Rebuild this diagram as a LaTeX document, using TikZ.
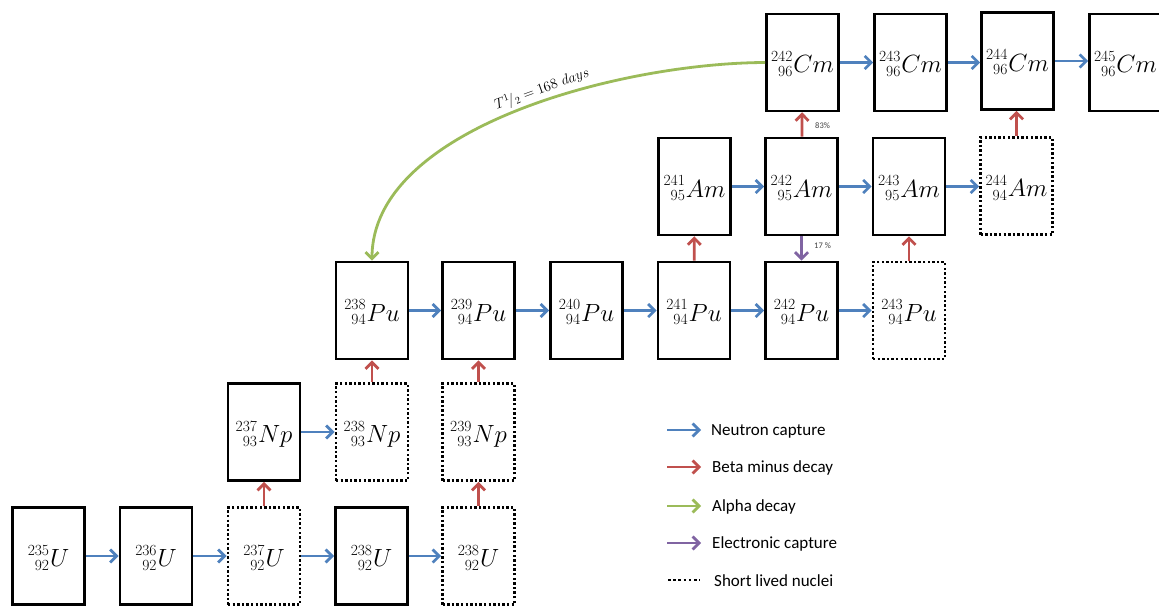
\documentclass[tikz,border=0pt]{standalone}
\usepackage{fontspec}
\newfontfamily\carl{Carlito}
\usetikzlibrary{arrows.meta}
\definecolor{nblue}{HTML}{4F81BD}
\definecolor{nred}{HTML}{C0504D}
\definecolor{ngreen}{HTML}{9BBB59}
\definecolor{npurple}{HTML}{8064A2}
\newcommand\nucl[3]{{\fontsize{15.5}{15}\selectfont\raisebox{11.5pt}{#1}\llap{\raisebox{-3.5pt}{#2}}}\kern1pt$#3$}
\begin{document}
\begin{tikzpicture}[x=1pt,y=-1pt,
  nuc/.style={draw=black, line width=2.6pt, minimum width=72pt, minimum height=97pt, inner sep=0pt, text height=21pt, text depth=0pt, font=\fontsize{24.5}{28}\selectfont},
  shortnuc/.style={nuc, dash pattern=on 2.4pt off 2.2pt},
  arr/.style={line width=2.8pt, -{Straight Barb[length=6.5pt,width=13pt]}},
  ncap/.style={arr, draw=nblue},
  bdec/.style={arr, draw=nred},
  adec/.style={arr, draw=ngreen},
  ecap/.style={arr, draw=npurple},
  legtext/.style={anchor=west, inner sep=0pt, font=\carl\fontsize{17}{20}\selectfont},
  pct/.style={anchor=west, inner sep=0pt, font=\carl\fontsize{8.5}{10}\selectfont, text=black!75}
]
\useasboundingbox (0,0) rectangle (1159,607);
\clip (0,0) rectangle (1159,607);
% row U
\node[nuc] (u235) at (48.5,556) {\nucl{235}{92}{U}};
\node[nuc] (u236) at (156,556) {\nucl{236}{92}{U}};
\node[shortnuc] (u237) at (264,556) {\nucl{237}{92}{U}};
\node[nuc] (u238) at (371.5,556) {\nucl{238}{92}{U}};
\node[shortnuc] (u238b) at (478.5,556) {\nucl{238}{92}{U}};
% row Np
\node[nuc] (np237) at (264,432) {\nucl{237}{93}{Np}};
\node[shortnuc] (np238) at (372,432) {\nucl{238}{93}{Np}};
\node[shortnuc] (np239) at (478.5,432) {\nucl{239}{93}{Np}};
% row Pu
\node[nuc] (pu238) at (372,310.5) {\nucl{238}{94}{Pu}};
\node[nuc] (pu239) at (478.5,310.5) {\nucl{239}{94}{Pu}};
\node[nuc] (pu240) at (586.5,310.5) {\nucl{240}{94}{Pu}};
\node[nuc] (pu241) at (694,310.5) {\nucl{241}{94}{Pu}};
\node[nuc] (pu242) at (801.5,310.5) {\nucl{242}{94}{Pu}};
\node[shortnuc] (pu243) at (909,310.5) {\nucl{243}{94}{Pu}};
% row Am
\node[nuc] (am241) at (694.5,186.5) {\nucl{241}{95}{Am}};
\node[nuc] (am242) at (801.5,186.5) {\nucl{242}{95}{Am}};
\node[nuc] (am243) at (909,186.5) {\nucl{243}{95}{Am}};
\node[shortnuc] (am244) at (1016.5,186) {\nucl{244}{94}{Am}};
% row Cm
\node[nuc] (cm242) at (802.5,62.5) {\nucl{242}{96}{Cm}};
\node[nuc] (cm243) at (910.5,62.5) {\nucl{243}{96}{Cm}};
\node[nuc] (cm244) at (1017.5,61) {\nucl{244}{96}{Cm}};
\node[nuc] (cm245) at (1125.5,62.5) {\nucl{245}{96}{Cm}};
% neutron captures
\draw[ncap] (u235) -- (u236);
\draw[ncap] (u236) -- (u237);
\draw[ncap] (u237) -- (u238);
\draw[ncap] (u238) -- (u238b);
\draw[ncap] (np237) -- (np238);
\draw[ncap] (pu238) -- (pu239);
\draw[ncap] (pu239) -- (pu240);
\draw[ncap] (pu240) -- (pu241);
\draw[ncap] (pu241) -- (pu242);
\draw[ncap] (pu242) -- (pu243);
\draw[ncap] (am241) -- (am242);
\draw[ncap] (am242) -- (am243);
\draw[ncap] (am243.east) -- (am243.east -| am244.west);
\draw[ncap] (cm242) -- (cm243);
\draw[ncap] (cm243.east) -- (cm243.east -| cm244.west);
\draw[ncap] (cm244.east) -- (cm244.east -| cm245.west);
% beta decays
\draw[bdec] (u237) -- (np237);
\draw[bdec] (np238) -- (pu238);
\draw[bdec] (u238b) -- (np239);
\draw[bdec] (np239) -- (pu239);
\draw[bdec] (pu241) -- (am241);
\draw[bdec] (pu243) -- (am243);
\draw[bdec] (am242) -- (cm242);
\draw[bdec] (am244) -- (am244 |- cm244.south);
% electron capture
\draw[ecap] (am242) -- (pu242);
\node[pct] (p83) at (815,126) {83\%};
\node[pct] (p17) at (814,246) {17 \%};
% alpha decay
\draw[adec] (cm242.west) .. controls (620,63) and (372,128) .. (pu238.north);
\node[rotate=20, inner sep=0pt, font=\fontsize{14}{16}\selectfont] (thalf) at (542,89) {$T{}^{1}\!/{}_{2} = 168\ days$};
% legend
\coordinate (l1a) at (667,430); \coordinate (l1b) at (701,430);
\coordinate (l2a) at (667,467); \coordinate (l2b) at (701,467);
\coordinate (l3a) at (667,506); \coordinate (l3b) at (701,506);
\coordinate (l4a) at (667,543); \coordinate (l4b) at (701,543);
\coordinate (l5a) at (668,580); \coordinate (l5b) at (700,580);
\draw[ncap] (l1a) -- (l1b);
\draw[bdec] (l2a) -- (l2b);
\draw[adec] (l3a) -- (l3b);
\draw[ecap] (l4a) -- (l4b);
\draw[line width=2.6pt, dash pattern=on 2.6pt off 2.6pt] (l5a) -- (l5b);
\node[legtext] (t1) at (711,431) {Neutron capture};
\node[legtext] (t2) at (712,468) {Beta minus decay};
\node[legtext] (t3) at (712,507) {Alpha decay};
\node[legtext] (t4) at (712,544) {Electronic capture};
\node[legtext] (t5) at (714,581) {Short lived nuclei};
\end{tikzpicture}
\end{document}
